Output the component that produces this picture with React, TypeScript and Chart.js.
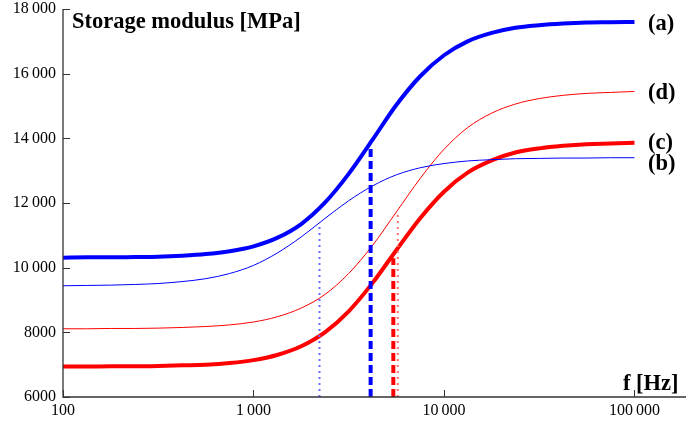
import React, { useEffect, useRef } from 'react';
import { Chart, registerables } from 'chart.js';

Chart.register(...registerables);

// Frequencies [Hz] at which the curves were read (1/8 decade apart)
const freqs = [100, 133, 178, 237, 316, 422, 562, 750, 1000, 1330, 1780, 2370, 3160, 4220, 5620, 7500, 10000, 13300, 17800, 23700, 31600, 42200, 56200, 75000, 100000];
// Storage modulus [MPa]
const curveA = [10310, 10320, 10320, 10330, 10340, 10370, 10420, 10510, 10660, 10920, 11350, 12010, 12900, 13960, 15030, 15920, 16570, 17000, 17260, 17420, 17500, 17550, 17580, 17590, 17600];
const curveB = [9440, 9450, 9460, 9480, 9510, 9570, 9660, 9820, 10070, 10450, 10950, 11520, 12070, 12530, 12870, 13090, 13220, 13300, 13340, 13370, 13380, 13390, 13390, 13400, 13400];
const curveC = [6940, 6940, 6950, 6950, 6960, 6980, 7000, 7050, 7140, 7300, 7570, 8000, 8650, 9530, 10540, 11530, 12350, 12940, 13320, 13560, 13690, 13770, 13820, 13840, 13860];
const curveD = [8110, 8110, 8120, 8120, 8130, 8150, 8180, 8230, 8320, 8480, 8750, 9170, 9820, 10690, 11720, 12760, 13660, 14330, 14780, 15060, 15230, 15330, 15390, 15420, 15450];
const curveLabels = ['(a)', '(b)', '(c)', '(d)'];

// Vertical marker lines: blue dotted, blue dashed, red dashed, red dotted
const markerFreqs = [2220, 4120, 5420, 5720];
const markerTops = [11320, 13690, 10290, 11630];

const yTicks = [6000, 8000, 10000, 12000, 14000, 16000, 18000];
const xTicks = [100, 1000, 10000, 100000];
const yTitle = 'Storage modulus [MPa]';
const xTitle = 'f [Hz]';

const SERIF = '"Liberation Serif", "Times New Roman", serif';
const THIN = '\u2009';

function groupThousands(v: number): string {
  const s = String(Math.round(v));
  if (s.length <= 3) return s;
  return s.slice(0, s.length - 3) + THIN + s.slice(s.length - 3);
}
const yLabel = (v: number) => (v >= 10000 ? groupThousands(v) : String(v));
const xLabel = (v: number) => (v >= 1000 ? groupThousands(v) : String(v));

const decorPlugin = {
  id: 'decor',
  afterDraw(chart: any) {
    const { ctx, chartArea } = chart;
    const xs = chart.scales.x;
    const ys = chart.scales.y;
    ctx.save();
    // axes
    ctx.strokeStyle = '#333';
    ctx.lineWidth = 1.3;
    ctx.beginPath();
    ctx.moveTo(chartArea.left, chartArea.top);
    ctx.lineTo(chartArea.left, chartArea.bottom);
    ctx.lineTo(chartArea.right, chartArea.bottom);
    ctx.stroke();
    // inward ticks
    ctx.lineWidth = 1;
    ctx.beginPath();
    for (const v of yTicks) {
      const y = Math.round(ys.getPixelForValue(v)) + 0.5;
      ctx.moveTo(chartArea.left, y);
      ctx.lineTo(chartArea.left + 7, y);
    }
    for (const v of xTicks) {
      const x = Math.round(xs.getPixelForValue(v)) + 0.5;
      ctx.moveTo(x, chartArea.bottom);
      ctx.lineTo(x, chartArea.bottom - 7);
    }
    ctx.stroke();
    // titles
    ctx.fillStyle = '#000';
    ctx.font = `bold 22.5px ${SERIF}`;
    ctx.textBaseline = 'alphabetic';
    ctx.textAlign = 'left';
    ctx.fillText(yTitle, 72, 28);
    ctx.fillText(xTitle, 623, 390);
    // curve labels
    const series = [curveA, curveB, curveC, curveD];
    const nudges = [2, 6, 0, 2];
    ctx.textBaseline = 'middle';
    series.forEach((s, i) => {
      const y = ys.getPixelForValue(s[s.length - 1]) + nudges[i];
      ctx.fillText(curveLabels[i], 648, y);
    });
    ctx.restore();
  },
};

const zeroPad = (s: any) => {
  s.paddingTop = 0;
  s.paddingBottom = 0;
  s.paddingLeft = 0;
  s.paddingRight = 0;
};

export default function App() {
  const ref = useRef<HTMLCanvasElement | null>(null);
  useEffect(() => {
    if (!ref.current) return;
    const pts = (arr: number[]) => freqs.map((f, i) => ({ x: f, y: arr[i] }));
    const marker = (i: number) => [
      { x: markerFreqs[i], y: 6000 },
      { x: markerFreqs[i], y: markerTops[i] },
    ];
    const chart = new Chart(ref.current, {
      type: 'line',
      data: {
        datasets: [
          { label: 'blue dotted', data: marker(0), borderColor: '#6a6aff', borderWidth: 2, borderDash: [2, 4] },
          { label: 'blue dashed', data: marker(1), borderColor: '#0000ff', borderWidth: 4, borderDash: [8, 4] },
          { label: 'red dashed', data: marker(2), borderColor: '#ff0000', borderWidth: 4, borderDash: [8, 4] },
          { label: 'red dotted', data: marker(3), borderColor: '#ff7070', borderWidth: 2, borderDash: [2, 4] },
          { label: curveLabels[0], data: pts(curveA), borderColor: '#0000ff', borderWidth: 4, cubicInterpolationMode: 'monotone' },
          { label: curveLabels[1], data: pts(curveB), borderColor: '#0000ff', borderWidth: 1, cubicInterpolationMode: 'monotone' },
          { label: curveLabels[2], data: pts(curveC), borderColor: '#ff0000', borderWidth: 4, cubicInterpolationMode: 'monotone' },
          { label: curveLabels[3], data: pts(curveD), borderColor: '#ff0000', borderWidth: 1, cubicInterpolationMode: 'monotone' },
        ] as any,
      },
      options: {
        animation: false,
        responsive: false,
        layout: { padding: { top: 9, right: 2, left: 0, bottom: 0 } },
        elements: { point: { radius: 0 }, line: { borderCapStyle: 'butt' } },
        plugins: { legend: { display: false }, tooltip: { enabled: false }, title: { display: false } },
        scales: {
          x: {
            type: 'logarithmic',
            min: 100,
            max: 186400,
            grid: { display: false, drawTicks: false },
            border: { display: false },
            ticks: {
              color: '#000',
              font: { family: SERIF, size: 16 },
              padding: 4,
              maxRotation: 0,
              autoSkip: false,
              callback: (v: any) => xLabel(Number(v)),
            },
            afterBuildTicks: (s: any) => {
              s.ticks = xTicks.map((v) => ({ value: v }));
            },
            afterFit: (s: any) => {
              s.height = 28;
              zeroPad(s);
            },
          },
          y: {
            type: 'linear',
            min: 6000,
            max: 18000,
            grid: { display: false, drawTicks: false },
            border: { display: false },
            ticks: {
              color: '#000',
              font: { family: SERIF, size: 16 },
              padding: 7,
              stepSize: 2000,
              callback: (v: any) => yLabel(Number(v)),
            },
            afterBuildTicks: (s: any) => {
              s.ticks = yTicks.map((v) => ({ value: v }));
            },
            afterFit: (s: any) => {
              s.width = 63;
              zeroPad(s);
            },
          },
        },
      } as any,
      plugins: [decorPlugin],
    });
    return () => chart.destroy();
  }, []);
  return (
    <div style={{ position: 'absolute', left: 0, top: 0, width: 688, height: 425, background: '#fff' }}>
      <canvas ref={ref} width={688} height={425} style={{ display: 'block' }} />
    </div>
  );
}
